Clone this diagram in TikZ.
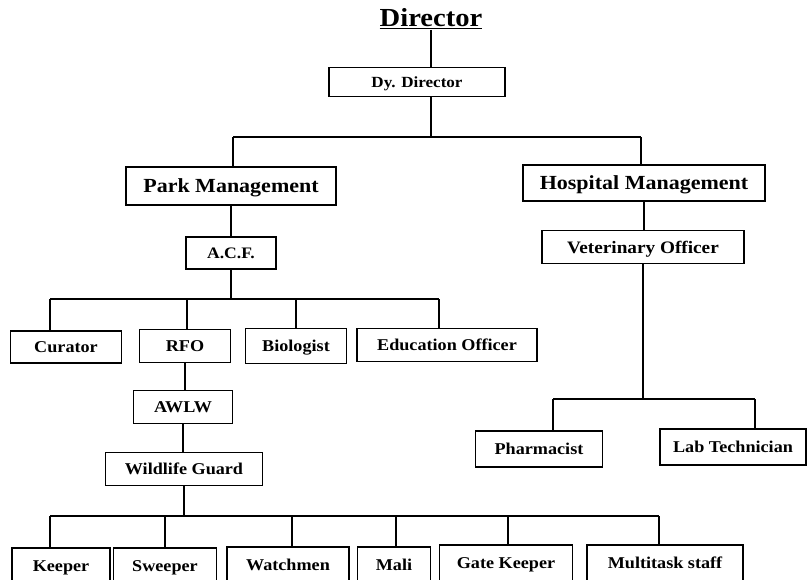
\documentclass[tikz,border=0pt]{standalone}
\usepackage{fontspec}
\setmainfont{Liberation Serif}[FakeStretch=1.1]

\tikzset{
	post/.style={draw, line width=1.5pt, inner sep=0pt, text height=11pt, text depth=0pt, font=\bfseries\fontsize{16.5}{18}\selectfont},
	head/.style={post, text height=13pt, font=\bfseries\fontsize{20}{22}\selectfont},
}

\begin{document}
\begin{tikzpicture}[x=1pt, y=-1pt, line width=1.5pt]
	\useasboundingbox (0,0) rectangle (808,579);
	% top
	\node[inner sep=0pt] (dir) at (431,19) {\fontsize{26}{28}\selectfont\bfseries\underline{Director}};
	\node[post, text height=10pt, font=\bfseries\fontsize{15.5}{17}\selectfont, minimum width=176pt, minimum height=29pt] (dy) at (417,82) {Dy. Director};
	\draw (dir.south) -- (dir.south |- dy.north);
	\coordinate (b1) at (431,137);
	\coordinate (pm1) at (233,137);
	\coordinate (hm1) at (641,137);
	\draw (dy.south -| b1) -- (b1);
	\draw (pm1) -- (hm1);
	% management
	\node[head, minimum width=210pt, minimum height=38pt] (pm) at (231,186) {Park Management};
	\node[head, minimum width=242pt, minimum height=36pt] (hm) at (644,183) {Hospital Management};
	\draw (pm1) -- (pm1 |- pm.north);
	\draw (hm1) -- (hm1 |- hm.north);
	% park side
	\node[post, font=\bfseries\fontsize{16}{18}\selectfont, minimum width=90pt, minimum height=32pt] (acf) at (231,253) {A.C.F.};
	\draw (pm.south) -- (pm.south |- acf.north);
	\coordinate (c2) at (50,299);
	\coordinate (r2) at (187,299);
	\coordinate (bi2) at (296,299);
	\coordinate (ed2) at (439,299);
	\draw (acf.south) -- (acf.south |- c2);
	\draw (c2) -- (ed2);
	\node[post, minimum width=111pt, minimum height=32pt] (cur) at (66,347) {Curator};
	\node[post, minimum width=91pt, minimum height=33pt] (rfo) at (185,346) {RFO};
	\node[post, minimum width=101pt, minimum height=35pt] (bio) at (296,346) {Biologist};
	\node[post, minimum width=180pt, minimum height=33pt] (edu) at (447,345) {Education Officer};
	\foreach \c/\n in {c2/cur, r2/rfo, bi2/bio, ed2/edu}
		\draw (\c) -- (\c |- \n.north);
	\node[post, minimum width=99pt, minimum height=33pt] (aw) at (183,407) {AWLW};
	\node[post, minimum width=157pt, minimum height=33pt] (wg) at (184,469) {Wildlife Guard};
	\draw (rfo.south) -- (rfo.south |- aw.north);
	\draw (aw.south) -- (aw.south |- wg.north);
	% staff
	\coordinate (k4) at (50,516);
	\coordinate (s4) at (165,516);
	\coordinate (w4) at (292,516);
	\coordinate (m4) at (396,516);
	\coordinate (g4) at (508,516);
	\coordinate (t4) at (659,516);
	\draw (wg.south) -- (wg.south |- k4);
	\draw (k4) -- (t4);
	\node[post, minimum width=98pt, minimum height=36pt] (kp) at (61,566) {Keeper};
	\node[post, minimum width=103pt, minimum height=36pt] (sw) at (165,566) {Sweeper};
	\node[post, minimum width=122pt, minimum height=36pt] (wm) at (288,565) {Watchmen};
	\node[post, minimum width=73pt, minimum height=36pt] (ml) at (394,565) {Mali};
	\node[post, minimum width=133pt, minimum height=36pt] (gk) at (506,563) {Gate Keeper};
	\node[post, minimum width=156pt, minimum height=36pt] (ms) at (665,563) {Multitask staff};
	\foreach \c/\n in {k4/kp, s4/sw, w4/wm, m4/ml, g4/gk, t4/ms}
		\draw (\c) -- (\c |- \n.north);
	% hospital side
	\node[post, text height=12pt, font=\bfseries\fontsize{17.5}{19}\selectfont, minimum width=202pt, minimum height=33pt] (vo) at (643,247) {Veterinary Officer};
	\draw (hm.south) -- (hm.south |- vo.north);
	\coordinate (ph3) at (553,399);
	\coordinate (lt3) at (755,399);
	\draw (vo.south) -- (vo.south |- ph3);
	\draw (ph3) -- (lt3);
	\node[post, minimum width=127pt, minimum height=36pt] (ph) at (539,449) {Pharmacist};
	\node[post, minimum width=146pt, minimum height=36pt] (lt) at (733,447) {Lab Technician};
	\draw (ph3) -- (ph3 |- ph.north);
	\draw (lt3) -- (lt3 |- lt.north);
\end{tikzpicture}
\end{document}
